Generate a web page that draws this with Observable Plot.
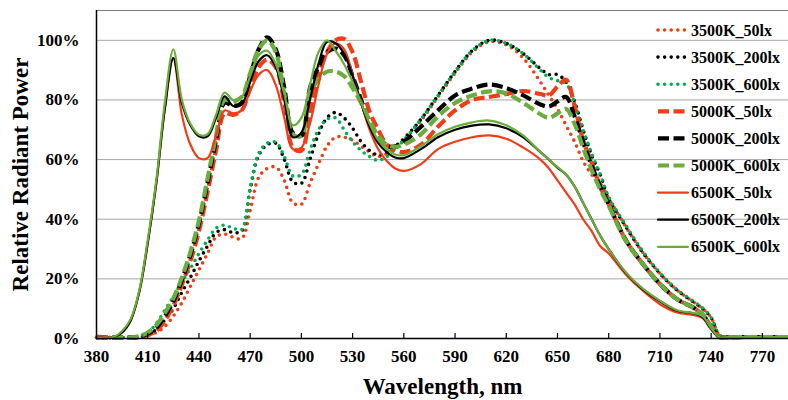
<!DOCTYPE html>
<html><head><meta charset="utf-8">
<script src="https://cdn.jsdelivr.net/npm/d3@7"></script>
<script src="https://cdn.jsdelivr.net/npm/@observablehq/plot@0.6"></script>
<style>body{margin:0;background:#fff;} #chart{width:788px;height:400px;}</style>
</head><body><div id="chart"></div>
<script>
const wavelengths = [380,390,395,400,405,410,415,420,425,430,435,440,445,450,455,460,465,470,475,480,485,490,495,500,505,510,515,520,525,530,535,540,545,550,555,560,570,580,590,600,610,620,630,640,645,650,655,660,665,670,675,680,690,700,710,720,730,735,740,745,750,760,770,785];

const s3500_50lx = [.003,.003,.003,.003,.004,.01,.02,.04,.075,.12,.175,.23,.285,.34,.35,.34,.335,.43,.54,.57,.575,.53,.455,.45,.52,.585,.645,.675,.675,.665,.645,.625,.61,.62,.64,.665,.73,.81,.89,.96,.995,.985,.94,.86,.815,.77,.715,.66,.595,.55,.52,.47,.375,.288,.218,.162,.121,.10,.07,.01,.004,.005,.005,.005];
const s3500_200lx = [.003,.003,.003,.003,.005,.014,.03,.062,.10,.155,.205,.26,.31,.355,.365,.355,.36,.50,.615,.65,.655,.60,.525,.52,.60,.685,.74,.758,.74,.705,.66,.63,.615,.625,.645,.67,.735,.815,.895,.965,1.0,.99,.955,.905,.885,.885,.86,.795,.70,.615,.55,.47,.375,.288,.218,.162,.121,.10,.07,.01,.004,.005,.005,.005];
const s3500_600lx = [.003,.003,.003,.004,.008,.02,.05,.095,.14,.19,.235,.285,.33,.37,.38,.37,.365,.505,.62,.655,.658,.61,.545,.55,.63,.70,.735,.74,.70,.66,.63,.61,.597,.61,.635,.665,.735,.815,.895,.965,1.0,.99,.955,.90,.875,.865,.855,.79,.70,.62,.55,.475,.38,.292,.22,.164,.123,.102,.07,.01,.004,.005,.005,.005];
const s5000_50lx = [.006,.003,.003,.003,.005,.012,.025,.06,.11,.18,.26,.36,.49,.63,.755,.75,.765,.84,.91,.935,.91,.79,.64,.63,.76,.88,.96,1.0,1.005,.96,.86,.76,.70,.65,.632,.625,.65,.71,.765,.80,.81,.82,.83,.82,.815,.845,.868,.78,.665,.59,.51,.45,.33,.25,.183,.132,.102,.08,.04,.005,.004,.005,.005,.005];
const s5000_200lx = [.004,.003,.003,.003,.006,.016,.035,.075,.125,.195,.28,.385,.52,.665,.79,.78,.79,.88,.97,1.01,.97,.84,.69,.68,.84,.91,.96,.972,.95,.88,.80,.72,.67,.645,.645,.66,.71,.765,.815,.838,.852,.84,.815,.785,.778,.795,.81,.745,.66,.58,.51,.45,.33,.25,.183,.132,.102,.08,.04,.005,.004,.005,.005,.005];
const s5000_600lx = [.004,.003,.003,.003,.008,.02,.045,.085,.135,.205,.29,.395,.535,.68,.80,.795,.81,.89,.97,1.0,.96,.82,.685,.68,.82,.87,.895,.895,.88,.84,.79,.73,.68,.65,.643,.65,.685,.745,.79,.815,.829,.822,.79,.752,.74,.755,.77,.72,.64,.565,.50,.445,.328,.25,.183,.132,.102,.08,.04,.005,.004,.005,.005,.005];
const s6500_50lx = [.008,.005,.02,.06,.155,.32,.52,.77,.94,.75,.65,.605,.605,.68,.765,.755,.765,.83,.885,.90,.85,.74,.635,.64,.72,.85,.955,.99,.97,.885,.79,.70,.635,.595,.57,.562,.585,.635,.66,.675,.681,.67,.64,.60,.57,.53,.49,.45,.40,.36,.31,.285,.215,.16,.115,.087,.078,.068,.03,.004,.004,.005,.005,.005];
const s6500_200lx = [.003,.004,.02,.06,.155,.32,.52,.77,.94,.79,.715,.678,.678,.74,.812,.78,.785,.86,.93,.95,.91,.80,.675,.69,.80,.92,.995,.99,.955,.88,.79,.71,.655,.625,.607,.605,.635,.675,.70,.714,.718,.705,.675,.625,.60,.573,.55,.51,.455,.40,.345,.30,.22,.165,.125,.093,.084,.072,.033,.004,.004,.005,.005,.005];
const s6500_600lx = [.003,.005,.025,.065,.16,.33,.53,.79,.97,.80,.72,.683,.685,.75,.825,.80,.81,.88,.95,.965,.92,.82,.715,.74,.85,.96,1.0,.965,.92,.86,.79,.72,.665,.635,.617,.615,.645,.685,.71,.725,.731,.715,.68,.625,.60,.575,.55,.51,.455,.40,.345,.30,.222,.167,.127,.095,.085,.075,.035,.004,.005,.005,.005,.005];

const seriesNames = ["3500K_50lx","3500K_200lx","3500K_600lx","5000K_50lx","5000K_200lx","5000K_600lx","6500K_50lx","6500K_200lx","6500K_600lx"];
const seriesValues = [s3500_50lx,s3500_200lx,s3500_600lx,s5000_50lx,s5000_200lx,s5000_600lx,s6500_50lx,s6500_200lx,s6500_600lx];
const seriesColors = ["#f03c17","#000000","#00b050","#f03c17","#000000","#6aad3d","#f03c17","#000000","#6aad3d"];
const seriesStyles = ["dot","dot","dot","dash","dash","dash","solid","solid","solid"];

const xTicks = [380,410,440,470,500,530,560,590,620,650,680,710,740,770];
const yTicks = [0,0.2,0.4,0.6,0.8,1.0];
const xDomain = [380, 785.3];
const yDomain = [0, 1.1];

const styleProps = {
  dot: {strokeWidth: 3.6, strokeDasharray: "0,6.6", strokeLinecap: "round"},
  dash: {strokeWidth: 4.2, strokeDasharray: "11,4.5", strokeLinecap: "butt"},
  solid: {strokeWidth: 2.2, strokeLinecap: "round"}
};

const lineMarks = seriesNames.map((name, i) => {
  const data = wavelengths.map((w, j) => ({wl: w, v: seriesValues[i][j], name}));
  return Plot.line(data, {x: "wl", y: "v", stroke: seriesColors[i], curve: "catmull-rom", strokeLinejoin: "round", ...styleProps[seriesStyles[i]]});
});

const plot = Plot.plot({
  width: 788, height: 400,
  marginLeft: 96, marginRight: 0, marginTop: 10, marginBottom: 62,
  style: {fontFamily: "'Liberation Serif', 'Times New Roman', serif", fontWeight: "bold", fontSize: "17px", color: "#000", background: "#fff"},
  x: {domain: xDomain},
  y: {domain: yDomain},
  marks: [
    Plot.ruleY(yTicks.filter(d => d > 0), {stroke: "#a6a6a6", strokeWidth: 1}),
    Plot.ruleY([yDomain[1]], {stroke: "#7f7f7f", strokeWidth: 1}),
    ...lineMarks,
    Plot.ruleY([0], {stroke: "#000", strokeWidth: 1.5}),
    Plot.ruleX([xDomain[0]], {stroke: "#000", strokeWidth: 1.5}),
    Plot.tickX(xTicks.slice(1), {x: d => d, stroke: "#000", strokeWidth: 1.2, insetTop: 323}),
    Plot.axisX({ticks: xTicks, tickSize: 0, tickPadding: 11, label: null, fontSize: 17, tickFormat: d => String(d)}),
    Plot.axisY({ticks: yTicks, tickSize: 0, tickPadding: 17, label: null, fontSize: 17, tickFormat: d3.format(".0%")}),
    Plot.text(["Wavelength, nm"], {text: d => d, frameAnchor: "bottom", dy: 48, fontSize: 23, fontWeight: "bold", lineAnchor: "middle"}),
    Plot.text(["Relative Radiant Power"], {text: d => d, frameAnchor: "left", dx: -76, rotate: -90, textAnchor: "middle", fontSize: 23, fontWeight: "bold", lineAnchor: "middle"})
  ]
});

// legend drawn inside the plot area (top right)
const svg = d3.select(plot);
const lg = svg.append("g")
  .attr("font-family", "'Liberation Serif', 'Times New Roman', serif")
  .attr("font-weight", "bold").attr("font-size", 16).attr("text-anchor", "start");
seriesNames.forEach((name, i) => {
  const y = 30 + i * 27.1;
  const st = styleProps[seriesStyles[i]];
  lg.append("line").attr("x1", 658).attr("x2", 688).attr("y1", y).attr("y2", y)
    .attr("stroke", seriesColors[i]).attr("stroke-width", st.strokeWidth)
    .attr("stroke-dasharray", st.strokeDasharray || null).attr("stroke-linecap", st.strokeLinecap || "butt");
  lg.append("text").attr("x", 691).attr("y", y).attr("dy", "0.35em").attr("fill", "#000").text(name);
});

document.getElementById("chart").appendChild(plot);
</script>
</body></html>
